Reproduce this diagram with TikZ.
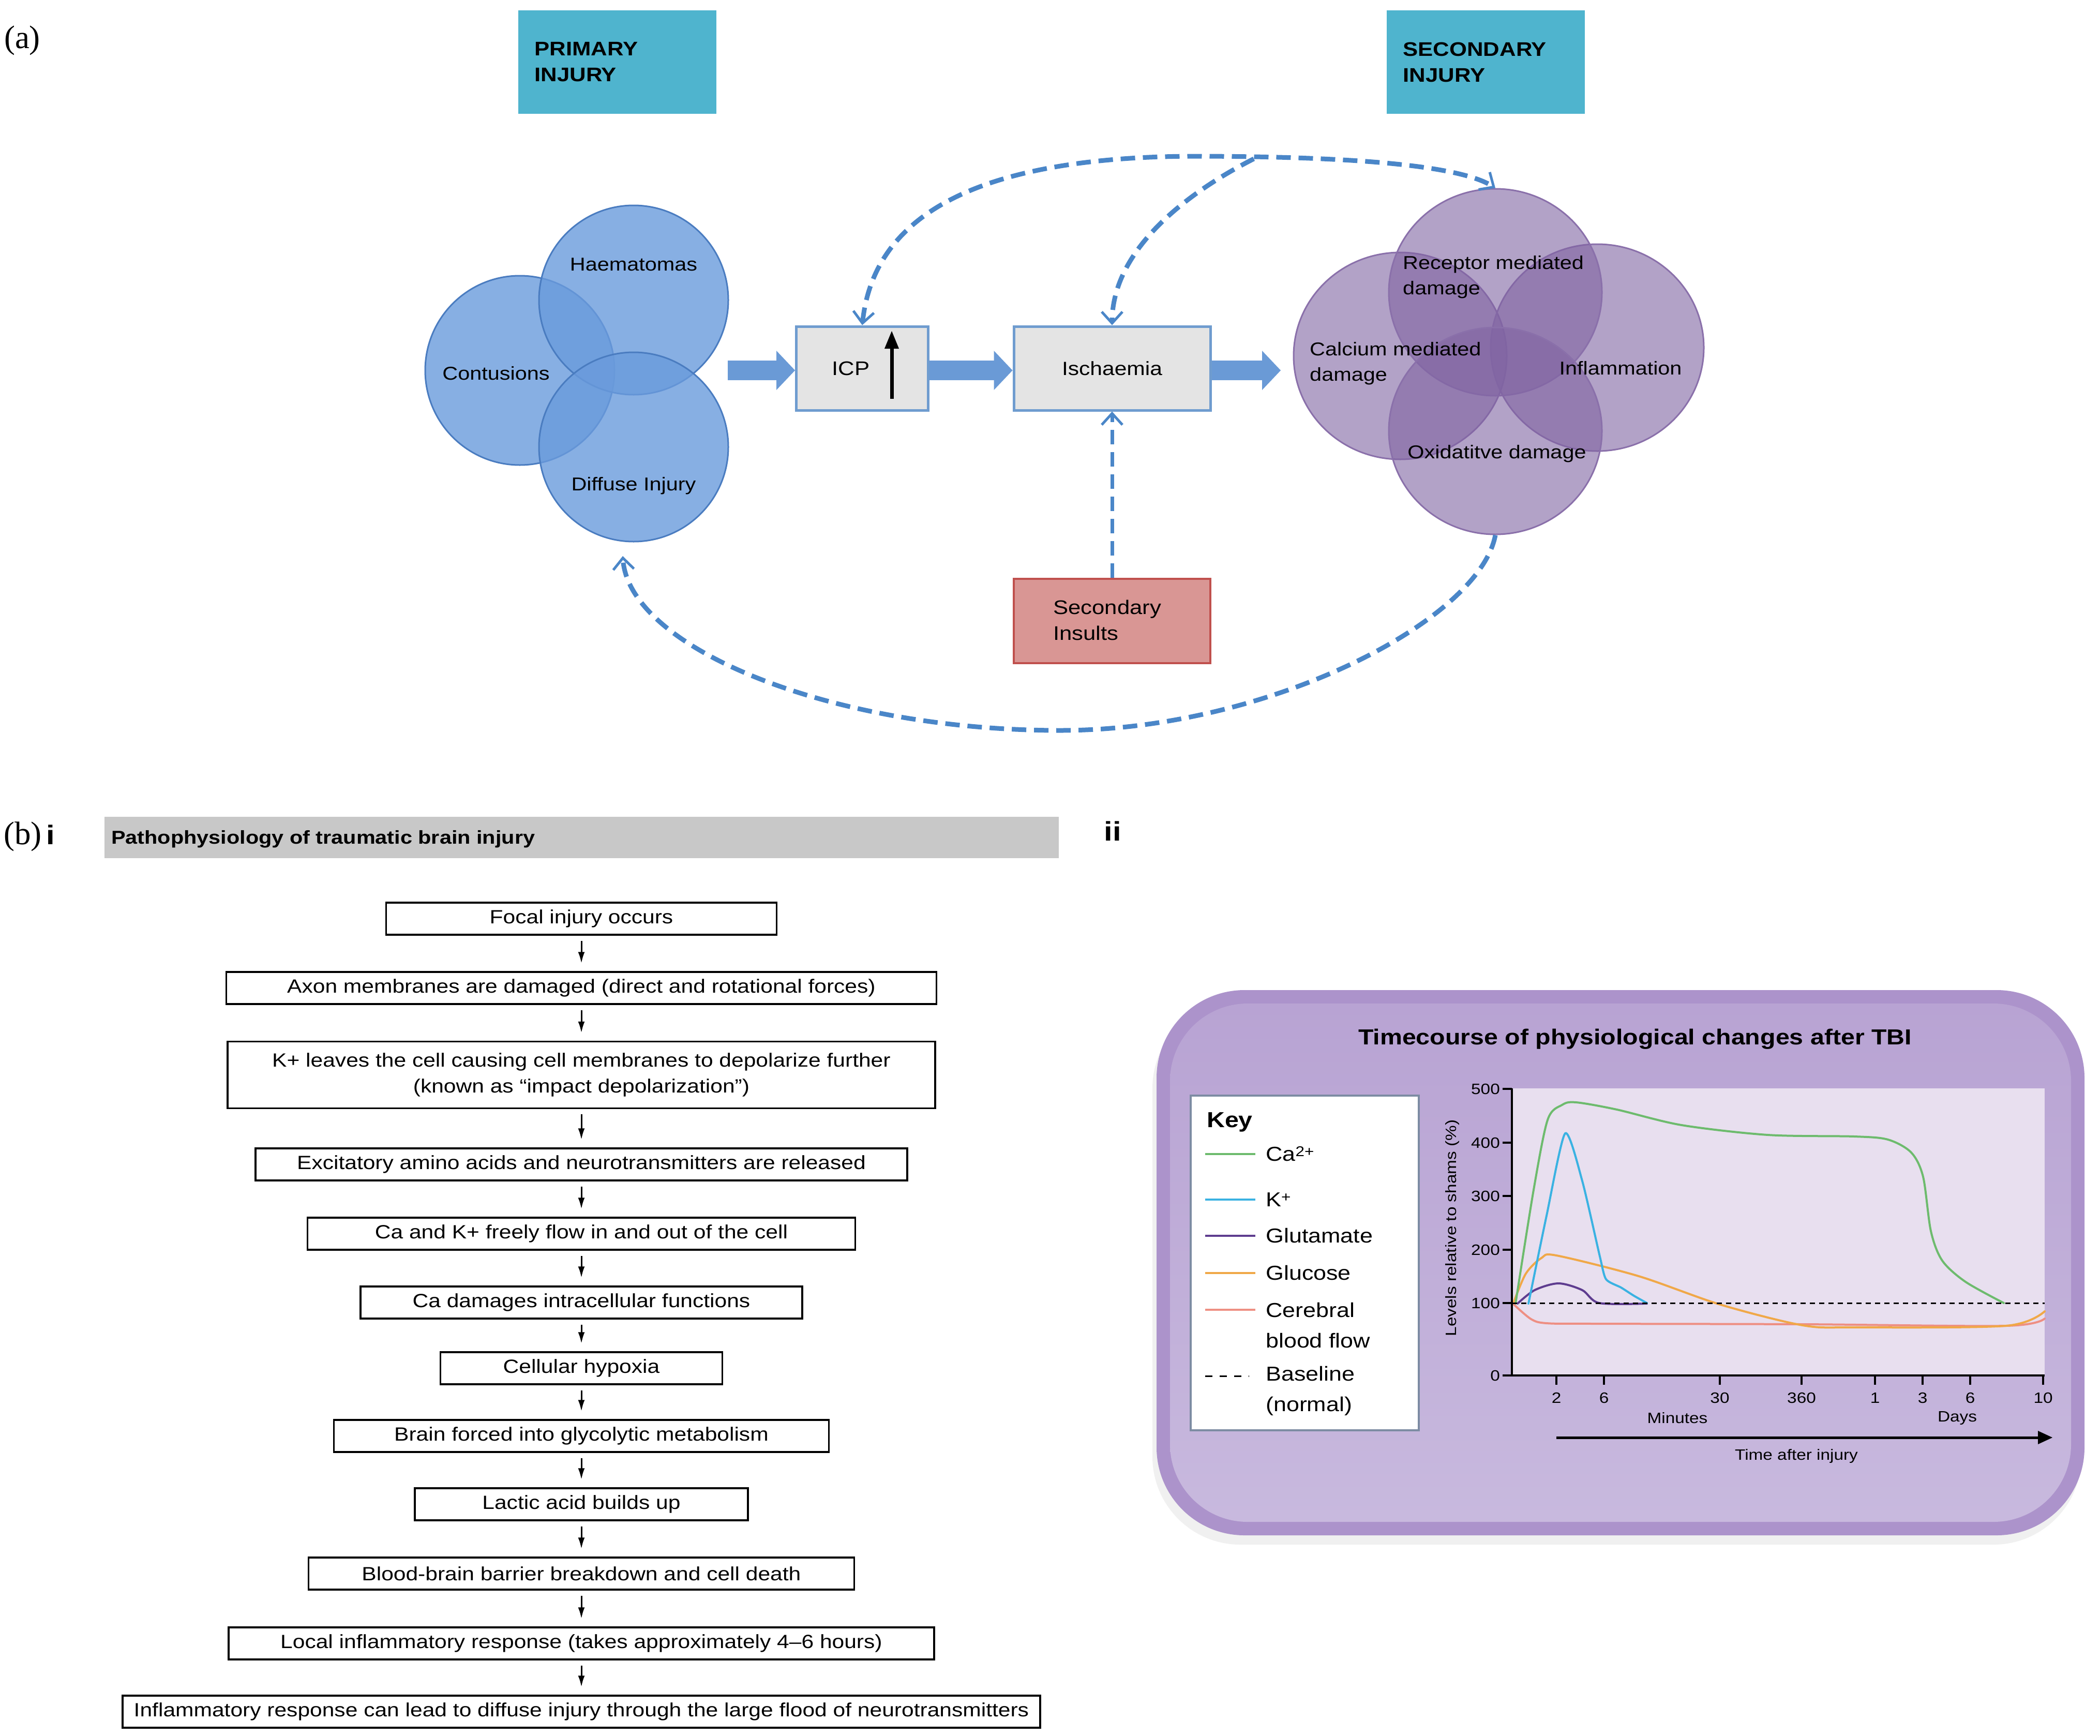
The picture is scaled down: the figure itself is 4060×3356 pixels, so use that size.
\documentclass[tikz,border=0pt]{standalone}
\usepackage{fontspec}
\setmainfont{Liberation Sans}[FakeStretch=1.15]
\newfontfamily\serifa{Liberation Serif}
\usetikzlibrary{arrows.meta,shapes.geometric,calc}
\definecolor{aqua}{HTML}{4FB4CE}
\definecolor{circblue}{HTML}{6A9BDC}
\definecolor{circblueb}{HTML}{4A7CC0}
\definecolor{circpur}{HTML}{8064A2}
\definecolor{circpurb}{HTML}{8A70AA}
\definecolor{arrblue}{HTML}{6A9AD6}
\definecolor{dashblue}{HTML}{4A86C8}
\definecolor{boxgrey}{HTML}{E4E4E4}
\definecolor{boxedge}{HTML}{6F9CCF}
\definecolor{insfill}{HTML}{D99694}
\definecolor{insedge}{HTML}{C0504D}
\definecolor{hdrgrey}{HTML}{C8C8C8}
\definecolor{panelout}{HTML}{AC93CB}
\definecolor{paneltop}{HTML}{B8A3D3}
\definecolor{panelin}{HTML}{C8B9DE}
\definecolor{plotbg}{HTML}{E8DFEF}
\definecolor{legedge}{HTML}{7D8CA3}
\definecolor{cagreen}{HTML}{6DBB6D}
\definecolor{kcyan}{HTML}{3AB2E2}
\definecolor{glupur}{HTML}{5E3C8F}
\definecolor{gluor}{HTML}{F0A848}
\definecolor{cbfpink}{HTML}{EE8F83}
\newcommand\fsz[2]{\fontsize{#1}{#2}\selectfont}
\begin{document}
\begin{tikzpicture}[x=1pt,y=-1pt,
  injbox/.style={fill=aqua, minimum width=383pt, minimum height=200pt, text width=319pt, align=left, inner sep=0pt, font=\bfseries\fsz{38}{50}},
  bcirc/.style={circle, minimum size=366pt, inner sep=0pt, fill=circblue, fill opacity=0.8, draw=circblueb, line width=3pt},
  pcirc/.style={ellipse, minimum width=412pt, minimum height=400pt, inner sep=0pt, fill=circpur, fill opacity=0.6, draw=circpurb, line width=3pt},
  lbl/.style={font=\fsz{36}{49}, inner sep=0pt, align=left},
  greybox/.style={draw=boxedge, line width=5pt, fill=boxgrey, minimum height=162pt, inner sep=0pt, font=\fsz{37}{48}},
  blockarr/.style={line width=38pt, draw=arrblue, -{Triangle[length=36pt,width=76pt,line width=0pt]}},
  dashconn/.style={draw=dashblue, line width=9pt, dash pattern=on 28pt off 15pt},
  dtip/.style={},
  fbox/.style={draw=black, line width=3.5pt, minimum height=62pt, inner sep=0pt, font=\fsz{37}{50}, align=center},
  farr/.style={line width=3pt, -{Latex[length=22pt,width=13pt]}, shorten <=10pt, shorten >=15pt},
  ax/.style={line width=3.5pt},
  tick/.style={font=\fsz{29}{34}, inner sep=0pt},
  curve/.style={line width=4pt, line cap=round}
]
\fill[white] (0,0) rectangle (4060,3356);
\useasboundingbox (0,0) rectangle (4060,3356);

% ---------------- (a) ----------------
\node[font=\serifa\fsz{63}{70}, inner sep=0pt] (la) at (43,78) {(a)};
\node[injbox] (prim) at (1193,120) {PRIMARY\\INJURY};
\node[injbox] (sec) at (2872,120) {SECONDARY\\INJURY};

% blue circles
\node[bcirc] (cont) at (1005,716) {};
\node[bcirc] (haem) at (1225,580) {};
\node[bcirc] (diff) at (1225,864) {};
\node[lbl] (thaem) at (1225,511) {Haematomas};
\node[lbl] (tcont) at (959,722) {Contusions};
\node[lbl] (tdiff) at (1225,939) {Diffuse Injury};

% purple circles
\node[pcirc] (calc) at (2707,688) {};
\node[pcirc] (infl) at (3088,672) {};
\node[pcirc] (recep) at (2891,565) {};
\node[pcirc] (oxid) at (2891,833) {};
\node[lbl, anchor=west] (trecep) at (2712,536) {Receptor mediated\\damage};
\node[lbl, anchor=west] (tcalc) at (2532,703) {Calcium mediated\\damage};
\node[lbl] (tinfl) at (3133,712) {Inflammation};
\node[lbl] (toxid) at (2894,877) {Oxidatitve damage};

% boxes
\node[greybox, minimum width=255pt] (icp) at (1667,712) {};
\node[lbl, font=\fsz{38}{46}] (ticp) at (1645,712) {ICP};
\coordinate (icpa) at (1724,771);
\coordinate (icpb) at (1724,640);
\draw[line width=7pt, -{Triangle[length=34pt,width=28pt,line width=0pt]}] (icpa) -- (icpb);
\node[greybox, minimum width=380pt] (isch) at (2150,712) {Ischaemia};
\node[draw=insedge, line width=4pt, fill=insfill, minimum width=380pt, minimum height=163pt, inner sep=0pt] (ins) at (2150,1200) {};
\node[lbl, anchor=west, font=\fsz{38}{50}] (tins) at (2036,1199) {Secondary\\Insults};

% block arrows
\coordinate (bstart) at (1407,716);
\coordinate (bend) at (2476,716);
\draw[blockarr] (bstart) -- (icp.west |- bstart);
\draw[blockarr] (icp.east |- bstart) -- (isch.west |- bstart);
\draw[blockarr] (isch.east |- bstart) -- (bend);

% dashed feedback connectors
\coordinate (topmid) at (2300,302);
\coordinate (join) at (2424,307);
\coordinate (botmid) at (2050,1412);
\coordinate (bottip) at (1204,1075);
\draw[dashconn, {Straight Barb[length=22pt,width=40pt,line width=5pt]}-{Straight Barb[length=22pt,width=40pt,line width=5pt]}]
  (icp.north) .. controls (1690,410) and (1900,305) .. (topmid)
  .. controls (2600,302) and (2820,318) .. (recep.north);
\draw[dashconn, -{Straight Barb[length=22pt,width=40pt,line width=5pt]}]
  (join) .. controls (2300,370) and (2150,480) .. (isch.north);
\draw[dashconn, line width=7pt, -{Straight Barb[length=22pt,width=40pt,line width=5pt]}]
  (ins.north) -- (isch.south);
\draw[dashconn, -{Straight Barb[length=22pt,width=40pt,line width=5pt]}]
  (oxid.south) .. controls (2860,1200) and (2450,1412) .. (botmid)
  .. controls (1600,1412) and (1215,1250) .. (bottip);

% ---------------- (b) i ----------------
\node[font=\serifa\fsz{63}{70}, inner sep=0pt] (lb) at (44,1617) {(b)};
\node[font=\bfseries\fsz{52}{60}, inner sep=0pt] (lbi) at (98,1614) {i};
\node[fill=hdrgrey, minimum width=1845pt, minimum height=80pt, inner sep=0pt] (hdr) at (1124,1619) {};
\node[font=\bfseries\fsz{36}{44}, inner sep=0pt, anchor=west] (thdr) at (215,1622) {Pathophysiology of traumatic brain injury};
\node[font=\bfseries\fsz{52}{60}, inner sep=0pt] (lbii) at (2151,1607) {ii};

\node[fbox, minimum width=755pt] (f1) at (1124,1776) {Focal injury occurs};
\node[fbox, minimum width=1373pt] (f2) at (1124,1910) {Axon membranes are damaged (direct and rotational forces)};
\node[fbox, minimum width=1368pt, minimum height=129pt] (f3) at (1124,2078) {K+ leaves the cell causing cell membranes to depolarize further\\(known as “impact depolarization”)};
\node[fbox, minimum width=1260pt] (f4) at (1124,2251) {Excitatory amino acids and neurotransmitters are released};
\node[fbox, minimum width=1059pt] (f5) at (1124,2385) {Ca and K+ freely flow in and out of the cell};
\node[fbox, minimum width=854pt] (f6) at (1124,2518) {Ca damages intracellular functions};
\node[fbox, minimum width=545pt] (f7) at (1124,2645) {Cellular hypoxia};
\node[fbox, minimum width=957pt] (f8) at (1124,2776) {Brain forced into glycolytic metabolism};
\node[fbox, minimum width=644pt] (f9) at (1124,2908) {Lactic acid builds up};
\node[fbox, minimum width=1055pt] (f10) at (1124,3042) {Blood-brain barrier breakdown and cell death};
\node[fbox, minimum width=1364pt] (f11) at (1124,3177) {Local inflammatory response (takes approximately 4–6 hours)};
\node[fbox, minimum width=1774pt] (f12) at (1124,3309) {Inflammatory response can lead to diffuse injury through the large flood of neurotransmitters};
\foreach \a/\b in {f1/f2,f2/f3,f3/f4,f4/f5,f5/f6,f6/f7,f7/f8,f8/f9,f9/f10,f10/f11,f11/f12}
  \draw[farr] (\a) -- (\b);

% ---------------- (b) ii ----------------
\fill[black!6, rounded corners=170pt] (2228,1934) rectangle (4024,2986);
\fill[panelout, rounded corners=170pt] (2236,1914) rectangle (4030,2968);
\shade[top color=paneltop, bottom color=panelin, rounded corners=150pt] (2262,1940) rectangle (4004,2942);
\node[font=\bfseries\fsz{42}{50}, inner sep=0pt] (ttl) at (3161,2009) {Timecourse of physiological changes after TBI};

% plot
\fill[plotbg] (2925,2104) rectangle (3953,2657);
\draw[ax] (2923,2104) -- (2923,2659) -- (3953,2659);
\foreach \yy/\lab in {2105/500,2209/400,2312/300,2416/200,2519/100,2659/0} {
  \draw[ax] (2905,\yy) -- (2923,\yy);
  \node[tick, anchor=east] at (2900,\yy) {\lab};
}
\foreach \xx/\lab in {3009/2,3101/6,3325/30,3483/360,3625/1,3717/3,3809/6,3950/10} {
  \draw[ax] (\xx,2659) -- (\xx,2677);
  \node[tick] at (\xx,2702) {\lab};
}
\node[tick] (tmin) at (3243,2741) {Minutes};
\node[tick] (tdays) at (3784,2741) {Days};
\coordinate (ta) at (3009,2779);
\coordinate (tb) at (3968,2779);
\draw[line width=5pt, -{Triangle[length=28pt,width=26pt,line width=0pt]}] (ta) -- (tb);
\node[tick] (ttime) at (3473,2815) {Time after injury};
\node[tick, rotate=90] (ylab) at (2808,2374) {Levels relative to shams (\%)};

% curves
\draw[curve, cbfpink] plot[smooth, tension=0.5] coordinates {(2927,2522) (2960,2550) (2990,2558) (3084,2559) (3485,2560) (3878,2563) (3953,2549)};
\draw[curve, gluor] plot[smooth, tension=0.5] coordinates {(2927,2516) (2950,2462) (2980,2432) (3009,2427) (3168,2467) (3326,2522) (3485,2562) (3585,2566) (3878,2563) (3953,2535)};
\draw[curve, glupur] plot[smooth, tension=0.5] coordinates {(2934,2520) (2967,2494) (3013,2481) (3059,2494) (3092,2519) (3184,2520)};
\draw[curve, kcyan] plot[smooth, tension=0.4] coordinates {(2955,2520) (2990,2350) (3026,2191) (3059,2283) (3093,2429) (3105,2473) (3134,2489) (3159,2505) (3184,2519)};
\draw[curve, cagreen] plot[smooth, tension=0.5] coordinates {(2930,2520) (2965,2300) (2992,2165) (3020,2136) (3047,2131) (3126,2145) (3251,2175) (3418,2194) (3585,2197) (3650,2203) (3695,2228) (3718,2275) (3733,2380) (3755,2437) (3800,2478) (3874,2519)};
\draw[line width=3pt, dash pattern=on 10pt off 8pt] (2923,2519) -- (3953,2519);

% legend
\node[draw=legedge, fill=white, line width=4pt, minimum width=441pt, minimum height=647pt, inner sep=0pt] (key) at (2522,2441) {};
\node[font=\bfseries\fsz{42}{48}, inner sep=0pt, anchor=west] (tkey) at (2333,2169) {Key};
\tikzset{legt/.style={font=\fsz{39}{59}, inner sep=0pt, anchor=west, align=left}}
\draw[line width=4pt, cagreen] (2330,2231) -- (2427,2231);
\node[legt] (l1) at (2447,2231) {Ca\textsuperscript{2+}};
\draw[line width=4pt, kcyan] (2330,2319) -- (2427,2319);
\node[legt] (l2) at (2447,2319) {K\textsuperscript{+}};
\draw[line width=4pt, glupur] (2330,2389) -- (2427,2389);
\node[legt] (l3) at (2447,2389) {Glutamate};
\draw[line width=4pt, gluor] (2330,2461) -- (2427,2461);
\node[legt] (l4) at (2447,2461) {Glucose};
\draw[line width=4pt, cbfpink] (2330,2532) -- (2427,2532);
\node[legt] (l5) at (2447,2562) {Cerebral\\blood flow};
\draw[line width=3pt, dash pattern=on 14pt off 14pt] (2330,2660) -- (2415,2660);
\node[legt] (l6) at (2447,2689) {Baseline\\(normal)};
\end{tikzpicture}
\end{document}
